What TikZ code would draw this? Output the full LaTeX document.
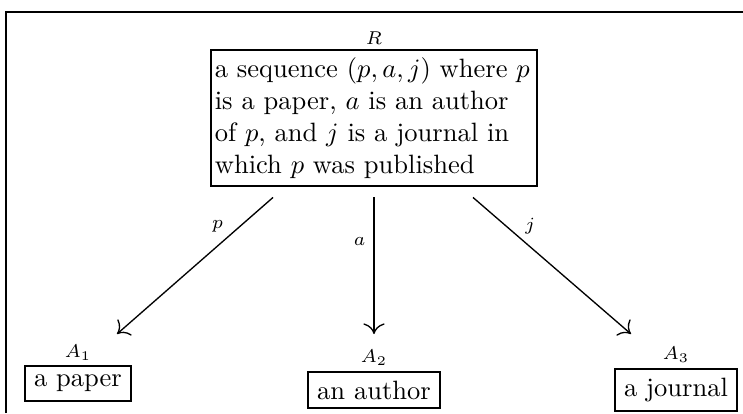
\documentclass[tikz,border=0pt]{standalone}
\usepackage{amsmath,amssymb}
\usepackage{tikz}
\usetikzlibrary{arrows.meta,positioning,calc}
\tikzset{
    caixa/.style={
        rectangle,
        draw,
        line width=0.75pt,
        inner sep=3.33pt
    },
    relacao/.style={caixa, text width=120pt, inner xsep=1.5pt, inner ysep=3pt},
    rotulo/.style={font=\scriptsize, inner sep=1.5pt},
    fluxo/.style={-{Computer Modern Rightarrow[length=4pt,width=8pt]}, line width=0.5pt},
    moldura/.style={line width=0.75pt}
}

\begin{document}
\begin{tikzpicture}[x=0.377pt, y=-0.377pt]
    \useasboundingbox (0,0) rectangle (743,413);
    \draw[moldura] (6,413) -- (6,12) -- (743,12);

    \node[relacao, anchor=north, label={[rotulo]above:$R$}] (R) at (374,49)
        {a sequence $(p,a,j)$ where $p$ is a paper, $a$ is an author of $p$, and $j$ is a journal in which $p$ was published};
    \node[caixa, anchor=north, label={[rotulo]above:$A_1$}] (artigo) at (78,365) {a paper};
    \node[caixa, anchor=north, label={[rotulo, label distance=0.5pt]above:$A_2$}] (autor) at (374,371) {an author};
    \node[caixa, anchor=north, label={[rotulo, label distance=0.5pt]above:$A_3$}] (revista) at (676,368) {a journal};

    \draw[fluxo] ($(R.south)+(-101,10)$) -- node[rotulo, pos=0.29, above left] {$p$} ($(artigo.north)+(39,-31)$);
    \draw[fluxo] ($(R.south)+(0,10)$) -- node[rotulo, pos=0.32, left, inner sep=3pt] {$a$} ($(autor.north)+(0,-37)$);
    \draw[fluxo] ($(R.south)+(99,10)$) -- node[rotulo, pos=0.3, above right] {$j$} ($(revista.north)+(-45,-34)$);
\end{tikzpicture}
\end{document}
